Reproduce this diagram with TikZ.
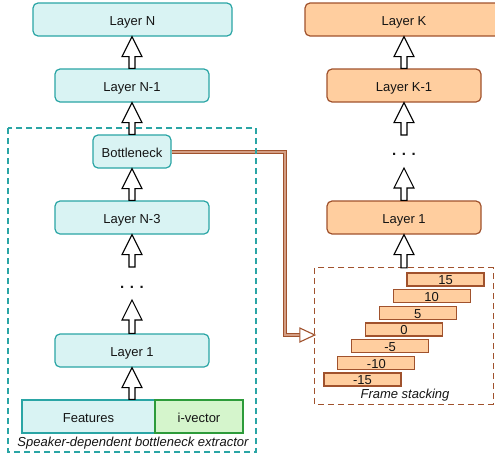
\documentclass[tikz,border=0pt]{standalone}
\usepackage{fontspec}
\setmainfont{Liberation Sans}
\usetikzlibrary{calc}
\definecolor{tealfill}{HTML}{D9F3F3}
\definecolor{tealline}{HTML}{2AA5A5}
\definecolor{orfill}{HTML}{FFCE9F}
\definecolor{orline}{HTML}{A0522D}
\definecolor{grfill}{HTML}{D5F5CC}
\definecolor{grline}{HTML}{2D9B3A}
\definecolor{connfill}{HTML}{D49E84}
\definecolor{txt}{HTML}{141414}
\newcommand\blkarrow[2]{\draw[blkarr] let \p1=(#1), \p2=(#2) in
  (\x1-3pt,\y1) -- (\x1-3pt,\y2-20pt) -- (\x1-10pt,\y2-20pt) -- (\x1,\y2)
  -- (\x1+10pt,\y2-20pt) -- (\x1+3pt,\y2-20pt) -- (\x1+3pt,\y1) -- cycle;}
\begin{document}
\begin{tikzpicture}[x=1pt,y=-1pt,
  base/.style={inner sep=0pt, minimum height=33pt, line width=1.2pt,
    font=\fontsize{13}{15}\selectfont, text=txt, text height=11.5pt, text depth=0pt},
  tbox/.style={base, draw=tealline, fill=tealfill, rounded corners=5pt},
  obox/.style={base, draw=orline, fill=orfill, rounded corners=5pt},
  fbox/.style={base, draw=tealline, fill=tealfill},
  gbox/.style={base, draw=grline, fill=grfill},
  bar/.style={base, draw=orline, fill=orfill, line width=1.1pt, minimum height=13pt,
    minimum width=77pt, text height=10.5pt},
  dots/.style={inner sep=0pt, font=\fontsize{15}{18}\selectfont\bfseries, text=txt},
  captext/.style={inner sep=0pt, font=\fontsize{13}{15}\selectfont\itshape, text=txt},
  blkarr/.style={draw=black, fill=white, line width=1.1pt, line join=miter},
  conn/.style={draw=orline, double=connfill, double distance=2pt, line width=1pt},
  connhead/.style={draw=orline, fill=white, line width=1.1pt},
  tdash/.style={draw=tealline, line width=1.1pt, dash pattern=on 6pt off 4pt},
  odash/.style={draw=orline, line width=1.1pt, dash pattern=on 6pt off 4pt}]
\useasboundingbox (0,0) rectangle (495,458);

% left column
\node[tbox, minimum width=199pt] (LN) at (132.5,19.5) {Layer N};
\node[tbox, minimum width=154pt] (LN1) at (132,85.5) {Layer N-1};
\node[tbox, minimum width=78pt] (BN) at (132,151.5) {Bottleneck};
\node[tbox, minimum width=154pt] (LN3) at (132,217.5) {Layer N-3};
\node[dots] (dL) at (132,287) {. . .};
\node[tbox, minimum width=154pt] (L1) at (132,350.5) {Layer 1};
\node[fbox, minimum width=133pt] (feat) at (88.5,416.5) {Features};
\node[gbox, minimum width=88pt] (ivec) at (199,416.5) {i-vector};
\node[captext] (capL) at (133,443.5) {Speaker-dependent bottleneck extractor};

% right column
\node[obox, minimum width=198pt] (LK) at (404,19.5) {Layer K};
\node[obox, minimum width=154pt] (LK1) at (404,85.5) {Layer K-1};
\node[dots] (dR) at (404,154) {. . .};
\node[obox, minimum width=154pt] (LR1) at (404,217.5) {Layer 1};
\node[inner sep=0pt, minimum width=178pt, minimum height=136pt] (fs) at (404,336) {};
\foreach \v [count=\i from 0, evaluate=\i as \bx using 445.5-13.833*\i,
  evaluate=\i as \by using 279.5+16.667*\i] in {15,10,5,0,-5,-10,-15}
  { \node[bar] (bar\i) at (\bx,\by) {\v}; }
\node[captext] (capR) at (405,395.5) {Frame stacking};

% connector
\coordinate (fsin) at (fs.west |- 0,335);
\coordinate (cturn) at (285,0);
\draw[conn] (BN.east) -- (BN.east -| cturn) -- (cturn |- fsin) -- ($(fsin)+(-15,0)$);
\draw[connhead] (fsin) -- ++(-15,-7) -- ++(0,14) -- cycle;

% dashed frames
\draw[tdash] (8,128) rectangle (256,452);
\draw[odash] (fs.north west) rectangle (fs.south east);

% block arrows
\blkarrow{LN1.north}{LN.south}
\blkarrow{BN.north}{LN1.south}
\blkarrow{LN3.north}{BN.south}
\blkarrow{$(dL)+(0,-20)$}{LN3.south}
\blkarrow{L1.north}{$(dL)+(0,13)$}
\blkarrow{L1.south |- feat.north}{L1.south}
\blkarrow{LK1.north}{LK.south}
\blkarrow{$(dR)+(0,-19)$}{LK1.south}
\blkarrow{LR1.north}{$(dR)+(0,14)$}
\blkarrow{fs.north}{LR1.south}
\end{tikzpicture}
\end{document}
